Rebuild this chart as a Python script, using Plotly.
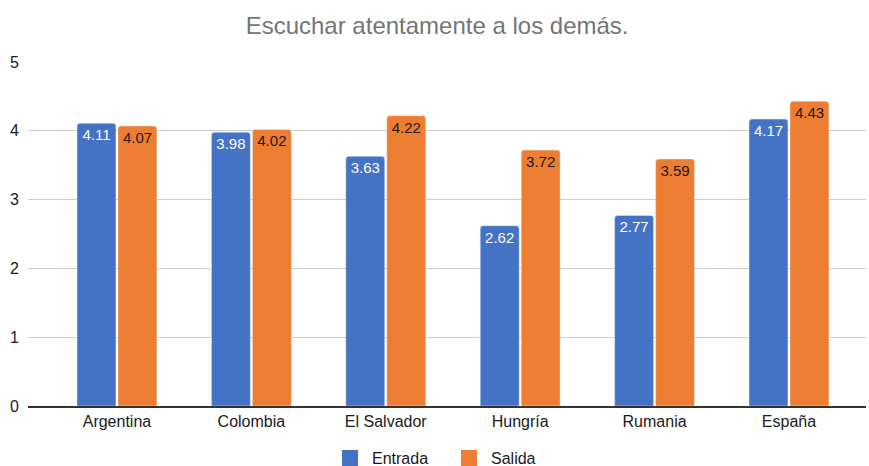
import plotly.graph_objects as go

countries = ["Argentina", "Colombia", "El Salvador", "Hungría", "Rumania", "España"]
entrada = [4.11, 3.98, 3.63, 2.62, 2.77, 4.17]
salida = [4.07, 4.02, 4.22, 3.72, 3.59, 4.43]

BLUE = "#4472C4"
ORANGE = "#ED7D31"
FONT = "Liberation Sans, Arial, sans-serif"

fig = go.Figure()
fig.add_trace(go.Bar(
    name="Entrada", x=countries, y=entrada, marker_color=BLUE,
    marker_cornerradius=3, showlegend=False,
    text=[f"{v:.2f}" for v in entrada], textposition="inside",
    insidetextanchor="end", textangle=0,
    textfont=dict(color="white", size=15, family=FONT),
))
fig.add_trace(go.Bar(
    name="Salida", x=countries, y=salida, marker_color=ORANGE,
    marker_cornerradius=3, showlegend=False,
    text=[f"{v:.2f}" for v in salida], textposition="inside",
    insidetextanchor="end", textangle=0,
    textfont=dict(color="#1a1a1a", size=15, family=FONT),
))

# legend entries with large square swatches
for name, color in [("Entrada", BLUE), ("Salida", ORANGE)]:
    fig.add_trace(go.Scatter(
        x=[None], y=[None], mode="markers", name=name,
        marker=dict(symbol="square", size=18, color=color),
    ))

fig.update_layout(
    width=869, height=466,
    margin=dict(l=28, r=3, t=62, b=60),
    paper_bgcolor="white", plot_bgcolor="white",
    font=dict(family=FONT, size=16, color="#1a1a1a"),
    title=dict(text="Escuchar atentamente a los demás.", x=0.503, xanchor="center",
               y=0.944, yanchor="middle",
               font=dict(size=24, color="#757575", family=FONT)),
    barmode="group", bargap=0.39, bargroupgap=0.05,
    legend=dict(orientation="h", x=0.5, xanchor="center", y=0.017, yanchor="middle",
                yref="container", font=dict(size=16, color="#1a1a1a"),
                itemwidth=34, entrywidth=70, traceorder="normal"),
    showlegend=True,
)
fig.update_xaxes(range=[-0.662, 5.573], showgrid=False, showline=True,
                 linecolor="#333333", linewidth=2, ticks="",
                 tickfont=dict(size=16, color="#1a1a1a"))
fig.update_yaxes(range=[0, 5], dtick=1, showgrid=True, gridcolor="#cccccc",
                 gridwidth=1, zeroline=False, showline=False, ticks="",
                 tickfont=dict(size=16, color="#1a1a1a"), ticklabelstandoff=8)

fig.write_html("out.html")
